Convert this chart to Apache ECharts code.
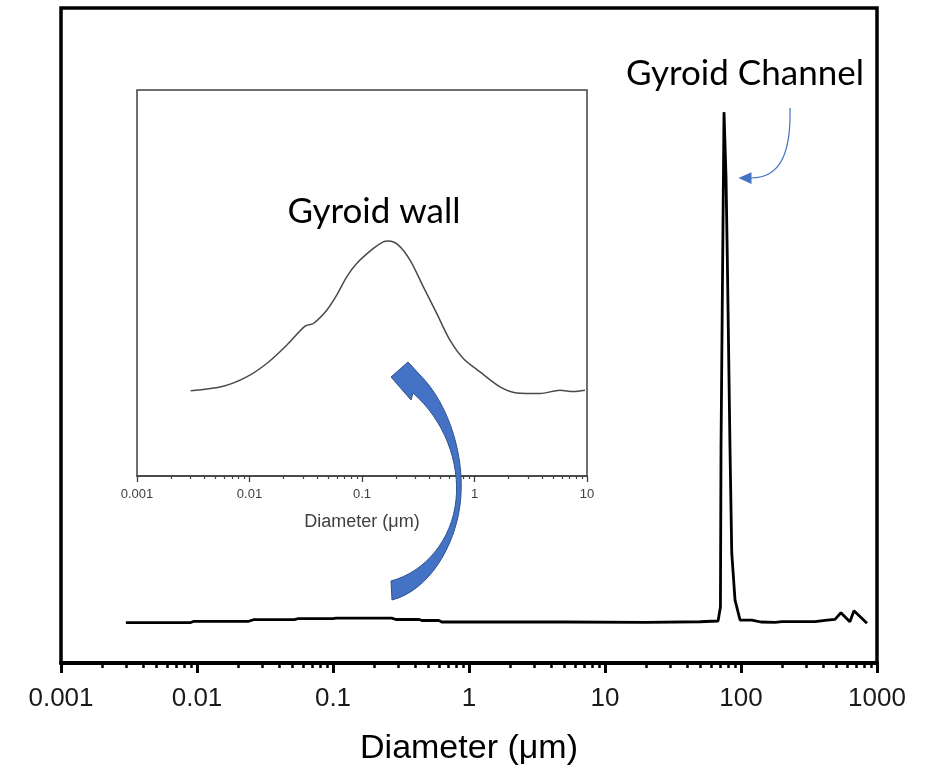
<!DOCTYPE html>
<html><head><meta charset="utf-8">
<script src="https://cdn.jsdelivr.net/npm/echarts@6/dist/echarts.min.js"></script>
<style>html,body{margin:0;padding:0;background:#fff}#c{width:933px;height:767px}</style>
</head><body><div id="c"></div>
<script>
// ---- Data ----
const mainDiameter = [0.003, 0.0089, 0.0095, 0.024, 0.026, 0.052, 0.055, 0.1, 0.105, 0.27, 0.29, 0.43, 0.45, 0.6, 0.63, 1.5, 5, 20, 50, 67.8,
  70.6, 71.3, 73.1, 75.0, 77.6, 79.3, 83.0, 85.5, 90.4, 98.4, 120, 140, 178, 200, 350, 360, 430, 491, 543, 632, 677, 844];
const mainSignal = [0.0615, 0.0615, 0.0637, 0.0637, 0.0661, 0.0661, 0.0676, 0.0676, 0.0684, 0.0684, 0.0664, 0.0664, 0.0649, 0.0649, 0.0626, 0.0626, 0.0626, 0.0620, 0.0630, 0.0641,
  0.0855, 0.328, 0.585, 0.841, 0.742, 0.620, 0.328, 0.168, 0.096, 0.0656, 0.0656, 0.0626, 0.0620, 0.0631, 0.0631, 0.0656, 0.0656, 0.0667, 0.0768, 0.0631, 0.0798, 0.0606];

const insetDiameter = [0.003, 0.00585, 0.00944, 0.01422, 0.02142, 0.0312, 0.0369, 0.0486, 0.0596, 0.0731, 0.0897, 0.1262, 0.1546, 0.1714,
  0.2104, 0.2673, 0.351, 0.4615, 0.6053, 0.795, 1.119, 1.686, 2.372, 3.82, 5.75, 7.56, 9.59];
const insetSignal = [0.221, 0.2326, 0.2567, 0.2914, 0.3389, 0.3881, 0.3951, 0.4296, 0.4685, 0.5159, 0.5507, 0.5896, 0.6067, 0.6085,
  0.5981, 0.5592, 0.49, 0.4211, 0.3518, 0.3044, 0.2696, 0.2307, 0.2152, 0.2136, 0.2222, 0.2188, 0.2222];

const mainTickLabels = ['0.001', '0.01', '0.1', '1', '10', '100', '1000'];
const insetTickLabels = ['0.001', '0.01', '0.1', '1', '10'];
const minorMultipliers = [2, 3, 4, 5, 6, 7, 8, 9];
const axisTitle = 'Diameter (μm)';
const channelLabel = 'Gyroid Channel';
const wallLabel = 'Gyroid wall';

// minor tick positions (log10 space)
function minorTicks(fromExp, toExp) {
  const out = [];
  for (let k = fromExp; k < toExp; k++) minorMultipliers.forEach(m => out.push(k + Math.log10(m)));
  return out;
}
function labelFor(list, firstExp) {
  return v => list[Math.round(Math.log10(v)) - firstExp] || '';
}
// sample a cubic bezier (annotation outline helper)
function cubic(p0, p1, p2, p3, n) {
  const pts = [];
  for (let i = 1; i <= n; i++) {
    const t = i / n, u = 1 - t;
    pts.push([
      u*u*u*p0[0] + 3*u*u*t*p1[0] + 3*u*t*t*p2[0] + t*t*t*p3[0],
      u*u*u*p0[1] + 3*u*u*t*p1[1] + 3*u*t*t*p2[1] + t*t*t*p3[1]
    ]);
  }
  return pts;
}
const bigArrow = [[391, 377], [408, 362], [420, 375]]
  .concat(cubic([420, 375], [450, 405], [466, 460], [460, 505], 16))
  .concat(cubic([460, 505], [455, 545], [430, 590], [392, 600], 16))
  .concat([[391, 581]])
  .concat(cubic([391, 581], [425, 572], [452, 540], [456, 500], 16))
  .concat(cubic([456, 500], [460, 462], [444, 420], [413, 393], 16))
  .concat([[411, 400]]);

const chart = echarts.init(document.getElementById('c'), null, { renderer: 'canvas' });
const option = {
  animation: false,
  backgroundColor: '#fff',
  grid: [
    { left: 61, right: 56, top: 8, bottom: 104, show: true, borderColor: '#000', borderWidth: 3.5, backgroundColor: 'transparent',
      containLabel: false, outerBoundsMode: 'none' },
    { left: 137, right: 346, top: 90, bottom: 291, show: true, borderColor: '#404040', borderWidth: 1.5, backgroundColor: '#fff',
      containLabel: false, outerBoundsMode: 'none' }
  ],
  xAxis: [
    { type: 'log', logBase: 10, gridIndex: 0, min: 0.001, max: 1000, position: 'bottom',
      axisLine: { lineStyle: { color: '#000', width: 4 } },
      axisTick: { length: 10, lineStyle: { color: '#000', width: 3 } },
      axisLabel: { formatter: labelFor(mainTickLabels, -3), fontSize: 26, color: '#1a1a1a', fontFamily: 'Liberation Sans', margin: 23 },
      splitLine: { show: false },
      name: axisTitle, nameLocation: 'middle', nameGap: 69,
      nameTextStyle: { fontSize: 34, color: '#000', fontFamily: 'Liberation Sans' } },
    { type: 'value', gridIndex: 0, min: -3, max: 3, position: 'bottom',
      axisLine: { show: false }, axisLabel: { show: false }, splitLine: { show: false },
      axisTick: { show: true, customValues: minorTicks(-3, 3), length: 5, lineStyle: { color: '#000', width: 2.5 } } },
    { type: 'log', logBase: 10, gridIndex: 1, min: 0.001, max: 10, position: 'bottom',
      axisLine: { lineStyle: { color: '#404040', width: 1.5 } },
      axisTick: { length: 6, lineStyle: { color: '#404040', width: 1.3 } },
      axisLabel: { formatter: labelFor(insetTickLabels, -3), fontSize: 13, color: '#404040', fontFamily: 'Liberation Sans', margin: 12 },
      splitLine: { show: false },
      name: axisTitle, nameLocation: 'middle', nameGap: 37,
      nameTextStyle: { fontSize: 18, color: '#404040', fontFamily: 'Liberation Sans' } },
    { type: 'value', gridIndex: 1, min: -3, max: 1, position: 'bottom',
      axisLine: { show: false }, axisLabel: { show: false }, splitLine: { show: false },
      axisTick: { show: true, customValues: minorTicks(-3, 1), length: 3, lineStyle: { color: '#404040', width: 1.2 } } }
  ],
  yAxis: [
    { type: 'value', gridIndex: 0, min: 0, max: 1, show: false },
    { type: 'value', gridIndex: 1, min: 0, max: 1, show: false }
  ],
  series: [
    { type: 'line', xAxisIndex: 0, yAxisIndex: 0, showSymbol: false, silent: true,
      data: mainDiameter.map((d, i) => [d, mainSignal[i]]),
      lineStyle: { color: '#000', width: 2.8 } },
    { type: 'line', xAxisIndex: 2, yAxisIndex: 1, showSymbol: false, silent: true, smooth: 0.3,
      data: insetDiameter.map((d, i) => [d, insetSignal[i]]),
      lineStyle: { color: '#4a4a4a', width: 1.5 } }
  ],
  graphic: [
    { type: 'text', silent: true, x: 745, y: 74,
      style: { text: channelLabel, align: 'center', verticalAlign: 'middle', font: '35px Lato', fill: '#000' } },
    { type: 'text', silent: true, x: 374, y: 212,
      style: { text: wallLabel, align: 'center', verticalAlign: 'middle', font: '35px Lato', fill: '#000' } },
    { type: 'bezierCurve', silent: true,
      shape: { x1: 790, y1: 108, cpx1: 791, cpy1: 150, cpx2: 782, cpy2: 178, x2: 751, y2: 178 },
      style: { stroke: '#4472C4', lineWidth: 1.2, fill: null } },
    { type: 'polygon', silent: true,
      shape: { points: [[738.5, 178], [751.5, 172.3], [751.5, 184]] },
      style: { fill: '#4472C4' } },
    { type: 'polygon', silent: true, z: 100,
      shape: { points: bigArrow },
      style: { fill: '#4472C4', stroke: '#2F528F', lineWidth: 1 } }
  ]
};
chart.setOption(option);
</script></body></html>
